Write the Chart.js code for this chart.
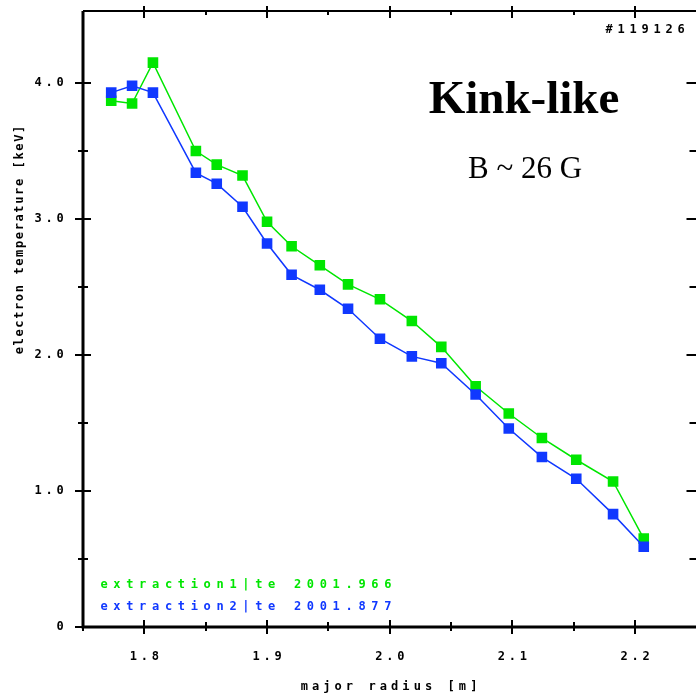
<!DOCTYPE html>
<html>
<head>
<meta charset="utf-8">
<script src="https://cdn.jsdelivr.net/npm/chart.js@4.4.1/dist/chart.umd.min.js"></script>
<style>
  html, body { margin: 0; padding: 0; background: #fff; overflow: hidden; }
  #wrap { width: 704px; height: 695px; }
</style>
</head>
<body>
<div id="wrap"><canvas id="profile" width="704" height="695"></canvas></div>
<script>
// major radius of each channel [m]
const radius = [1.773, 1.790, 1.807, 1.842, 1.859, 1.880, 1.900, 1.920, 1.943, 1.966,
  1.992, 2.018, 2.042, 2.070, 2.097, 2.124, 2.152, 2.182, 2.207];
// electron temperature [keV], two extraction windows
const te1 = [3.87, 3.85, 4.15, 3.50, 3.40, 3.32, 2.98, 2.80, 2.66, 2.52,
  2.41, 2.25, 2.06, 1.77, 1.57, 1.39, 1.23, 1.07, 0.65];
const te2 = [3.93, 3.98, 3.93, 3.34, 3.26, 3.09, 2.82, 2.59, 2.48, 2.34,
  2.12, 1.99, 1.94, 1.71, 1.46, 1.25, 1.09, 0.83, 0.59];

const seriesNames = ['extraction1|te 2001.966', 'extraction2|te 2001.877'];
const xTicks = [1.8, 1.9, 2.0, 2.1, 2.2];
const xMinor = [1.75, 1.85, 1.95, 2.05, 2.15];
const yTicks = [0, 1, 2, 3, 4];
const yTickLabels = ['0', '1.0', '2.0', '3.0', '4.0'];
const yMinor = [0.5, 1.5, 2.5, 3.5];
const shotLabel = '#119126';

const GREEN = '#00e600';
const BLUE = '#1038ff';
const PIX = 'bold 12px "DejaVu Sans Mono", monospace';

const toPoints = (ys) => ys.map((y, i) => ({ x: radius[i], y }));

// monospaced text drawn one glyph at a time with a wide pitch
function spaced(ctx, text, x, y, step, align) {
  const w = step * (text.length - 1);
  let x0 = align === 'center' ? x - w / 2 : align === 'right' ? x - w : x;
  ctx.textAlign = 'center';
  for (let i = 0; i < text.length; i++) {
    ctx.fillText(text[i], x0 + i * step, y);
  }
}

const framePlugin = {
  id: 'frame',
  afterDraw(chart) {
    const { ctx, chartArea: a, scales } = chart;
    const xs = scales.x, ys = scales.y;
    ctx.save();
    ctx.strokeStyle = '#000';
    ctx.fillStyle = '#000';

    // box (right edge runs off the page)
    ctx.lineWidth = 3;
    ctx.beginPath();
    ctx.moveTo(a.left, a.top); ctx.lineTo(a.left, a.bottom); ctx.lineTo(a.right + 4, a.bottom);
    ctx.stroke();
    ctx.lineWidth = 2;
    ctx.beginPath();
    ctx.moveTo(a.left, a.top); ctx.lineTo(a.right + 4, a.top);
    ctx.stroke();

    ctx.lineWidth = 2;
    ctx.beginPath();
    xTicks.forEach(v => {
      const p = Math.round(xs.getPixelForValue(v));
      ctx.moveTo(p, a.bottom - 7); ctx.lineTo(p, a.bottom + 7);
      ctx.moveTo(p, a.top - 5); ctx.lineTo(p, a.top + 7);
    });
    xMinor.forEach(v => {
      const p = Math.round(xs.getPixelForValue(v));
      ctx.moveTo(p, a.bottom - 5); ctx.lineTo(p, a.bottom + 4);
      ctx.moveTo(p, a.top); ctx.lineTo(p, a.top + 4);
    });
    yTicks.forEach(v => {
      const p = Math.round(ys.getPixelForValue(v));
      ctx.moveTo(a.left - 8, p); ctx.lineTo(a.left + 8, p);
      ctx.moveTo(a.right - 10, p); ctx.lineTo(a.right, p);
    });
    yMinor.forEach(v => {
      const p = Math.round(ys.getPixelForValue(v));
      ctx.moveTo(a.left - 5, p); ctx.lineTo(a.left + 5, p);
      ctx.moveTo(a.right - 7, p); ctx.lineTo(a.right, p);
    });
    ctx.stroke();

    ctx.font = PIX;
    ctx.textBaseline = 'middle';
    yTicks.forEach((v, i) => {
      spaced(ctx, yTickLabels[i], 60, ys.getPixelForValue(v), 11, 'right');
    });
    xTicks.forEach(v => {
      spaced(ctx, v.toFixed(1), xs.getPixelForValue(v), 657, 11, 'center');
    });
    spaced(ctx, 'major radius [m]', 389, 687, 11.3, 'center');

    ctx.save();
    ctx.translate(20, 240);
    ctx.rotate(-Math.PI / 2);
    spaced(ctx, 'electron temperature [keV]', 0, 0, 8.85, 'center');
    ctx.restore();

    spaced(ctx, shotLabel, 609, 30, 12, 'left');

    ctx.fillStyle = GREEN;
    spaced(ctx, seriesNames[0], 104, 585, 12.9, 'left');
    ctx.fillStyle = BLUE;
    spaced(ctx, seriesNames[1], 104, 607, 12.9, 'left');

    ctx.fillStyle = '#000';
    ctx.textBaseline = 'alphabetic';
    ctx.textAlign = 'center';
    ctx.font = 'bold 47px "Liberation Serif", serif';
    ctx.fillText('Kink-like', 524, 113);
    ctx.font = '31px "Liberation Serif", serif';
    ctx.fillText('B ~ 26 G', 525, 178);
    ctx.restore();
  }
};

new Chart(document.getElementById('profile'), {
  type: 'line',
  data: {
    datasets: [
      {
        label: seriesNames[1],
        data: toPoints(te2),
        borderColor: BLUE,
        backgroundColor: BLUE,
        borderWidth: 1.5,
        pointStyle: 'rect',
        pointRadius: 7.5,
        pointBorderWidth: 0,
        order: 0
      },
      {
        label: seriesNames[0],
        data: toPoints(te1),
        borderColor: GREEN,
        backgroundColor: GREEN,
        borderWidth: 1.5,
        pointStyle: 'rect',
        pointRadius: 7.5,
        pointBorderWidth: 0,
        order: 1
      }
    ]
  },
  options: {
    responsive: false,
    animation: false,
    devicePixelRatio: 1,
    layout: { padding: { left: 83, top: 11, right: 4, bottom: 68 } },
    plugins: { legend: { display: false }, tooltip: { enabled: false } },
    scales: {
      x: { type: 'linear', min: 1.75, max: 2.25, display: false },
      y: { type: 'linear', min: 0, max: 4.53, display: false }
    }
  },
  plugins: [framePlugin]
});
</script>
</body>
</html>
